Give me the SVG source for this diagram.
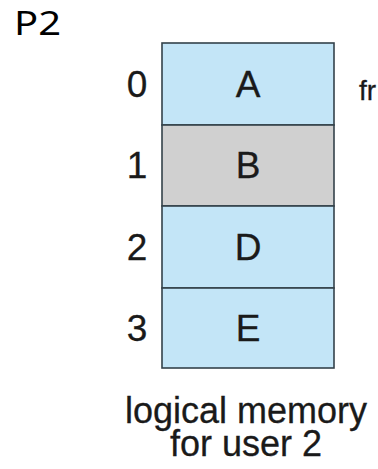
<svg xmlns="http://www.w3.org/2000/svg" width="378" height="469" viewBox="0 0 378 469">
<style>
.cell{stroke:#34424a;stroke-width:1.6}
.blue{fill:#c3e5f7}
.gray{fill:#d0d0d0}
.t{font-family:"Liberation Sans",Arial,sans-serif;font-size:37px;fill:#1a1a1a;text-anchor:middle;stroke:#1a1a1a;stroke-width:0.3}
.lbl{font-family:"Liberation Sans",Arial,sans-serif;font-size:36px;fill:#1a1a1a;text-anchor:middle;stroke:#1a1a1a;stroke-width:0.3}
</style>
<rect width="378" height="469" fill="#ffffff"/>
<text x="14" y="35" font-family="'Noto Sans','Open Sans',sans-serif" font-size="33" fill="#000" textLength="47" lengthAdjust="spacingAndGlyphs">P2</text>
<g id="page0">
<rect class="cell blue" x="162" y="43" width="172" height="82"/>
<text class="t" x="137" y="97">0</text>
<text class="t" x="248" y="97">A</text>
</g>
<g id="page1">
<rect class="cell gray" x="162" y="125" width="172" height="81"/>
<text class="t" x="137" y="178">1</text>
<text class="t" x="248" y="178">B</text>
</g>
<g id="page2">
<rect class="cell blue" x="162" y="206" width="172" height="82"/>
<text class="t" x="137" y="260">2</text>
<text class="t" x="248" y="260">D</text>
</g>
<g id="page3">
<rect class="cell blue" x="162" y="288" width="172" height="80"/>
<text class="t" x="137" y="341">3</text>
<text class="t" x="248" y="341">E</text>
</g>
<text class="lbl" x="246" y="423">logical memory</text>
<text class="lbl" x="246" y="456">for user 2</text>
<text x="359" y="100" font-family="'Liberation Sans',Arial,sans-serif" font-size="28" fill="#1a1a1a" stroke="#1a1a1a" stroke-width="0.3">fr</text>
<g id="connectors"></g>
</svg>
